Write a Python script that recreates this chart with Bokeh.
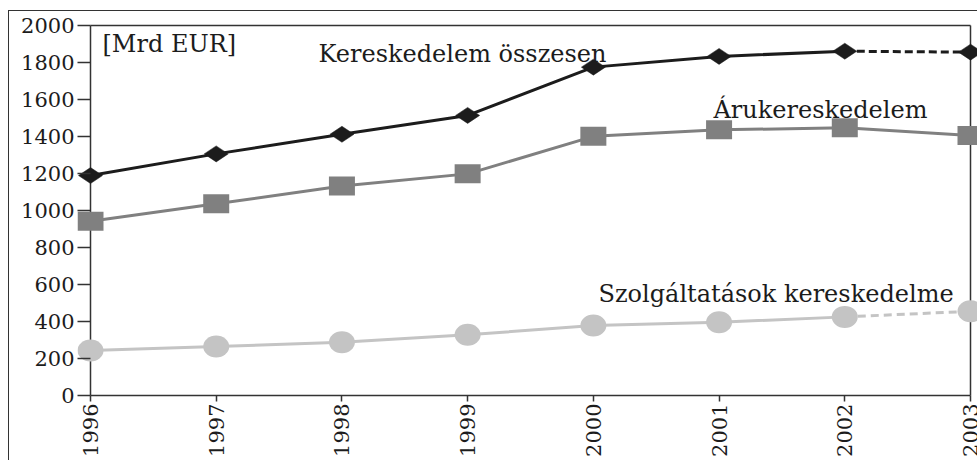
import math
from bokeh.plotting import figure
from bokeh.models import Range1d, FixedTicker, Label
from bokeh.embed import file_html
from bokeh.resources import INLINE

# ---- data ----
years = [1996, 1997, 1998, 1999, 2000, 2001, 2002, 2003]
total = [1189, 1306, 1412, 1514, 1775, 1833, 1861, 1856]      # Kereskedelem összesen
goods = [942, 1036, 1133, 1198, 1401, 1436, 1447, 1405]       # Árukereskedelem
services = [243, 265, 288, 328, 378, 396, 425, 455]           # Szolgáltatások kereskedelme
y_ticks = [0, 200, 400, 600, 800, 1000, 1200, 1400, 1600, 1800, 2000]
unit_label = "[Mrd EUR]"
name_total = "Kereskedelem összesen"
name_goods = "Árukereskedelem"
name_services = "Szolgáltatások kereskedelme"

FONT = "DejaVu Serif"
DARK = "#1c1c1c"
AX = "#333333"

# scale helpers (pixels per unit)
px_year = 880 / 7.0
px_val = 370 / 2000.0

x0, x1 = years[0], years[-1]
ymax = y_ticks[-1]

p = figure(width=969, height=450, output_backend="svg", toolbar_location=None,
           x_range=Range1d(x0 - 13 / px_year, x1 + 8 / px_year),
           y_range=Range1d(-2 / px_val, ymax + 2 / px_val),
           min_border_left=68, min_border_right=0, min_border_top=12, min_border_bottom=64)
p.styles = {"border-left": "1px solid #333", "border-top": "1px solid #333",
            "margin-top": "10px", "margin-left": "8px"}
p.grid.visible = False
p.outline_line_color = None
p.background_fill_color = "white"
p.border_fill_color = "white"

for ax in (p.xaxis[0], p.yaxis[0]):
    ax.axis_line_color = None
    ax.minor_tick_line_color = None
    ax.major_tick_line_color = AX
    ax.major_tick_line_width = 1.5
    ax.major_label_text_font = FONT
    ax.major_label_text_font_size = "21px"
    ax.major_label_text_color = DARK

p.xaxis.ticker = FixedTicker(ticks=years)
p.xaxis.major_label_orientation = math.pi / 2
p.xaxis.major_tick_in = 2
p.xaxis.major_tick_out = 4
p.xaxis.major_label_standoff = 2

p.yaxis.ticker = FixedTicker(ticks=y_ticks)
p.yaxis.major_tick_in = 13
p.yaxis.major_tick_out = 0
p.yaxis.major_label_standoff = 3

# frame lines (axes and box)
p.segment(x0=[x0, x0, x0, x1], y0=[0, 0, ymax, 0],
          x1=[x1, x0, x1, x1], y1=[0, ymax, ymax, ymax],
          line_color=AX, line_width=1.5)

# series lines
p.line(years[:7], total[:7], line_color=DARK, line_width=3)
p.line(years[6:], total[6:], line_color=DARK, line_width=3, line_dash="8 4")
p.line(years, goods, line_color="#808080", line_width=3)
p.line(years[:7], services[:7], line_color="#c4c4c4", line_width=3)
p.line(years[6:], services[6:], line_color="#c4c4c4", line_width=3, line_dash="8 5")

# markers
p.scatter(years, total, marker="diamond", size=24, angle=math.pi / 2,
          fill_color=DARK, line_color=DARK, line_width=0.5)
p.rect(years, goods, width=26, height=19, width_units="screen", height_units="screen",
       fill_color="#808080", line_color=None)
p.ellipse(years, services, width=26, height=22, width_units="screen", height_units="screen",
          fill_color="#c4c4c4", line_color=None)

# texts
def lab(x, y, t, bg=None):
    l = Label(x=x, y=y, text=t, text_font=FONT, text_font_size="24px",
              text_color=DARK, text_baseline="alphabetic", text_align="left")
    if bg:
        l.background_fill_color = bg
        l.padding = 2
    p.add_layout(l)

lab(x0 + 10 / px_year, (395 - 43) / px_val, unit_label, bg="white")
lab(x0 + 228 / px_year, (395 - 53) / px_val, name_total)
lab(x0 + 623 / px_year, (395 - 109) / px_val, name_goods)
lab(x0 + 508 / px_year, (395 - 293) / px_val, name_services)

open("out.html", "w").write(file_html(p, INLINE))
